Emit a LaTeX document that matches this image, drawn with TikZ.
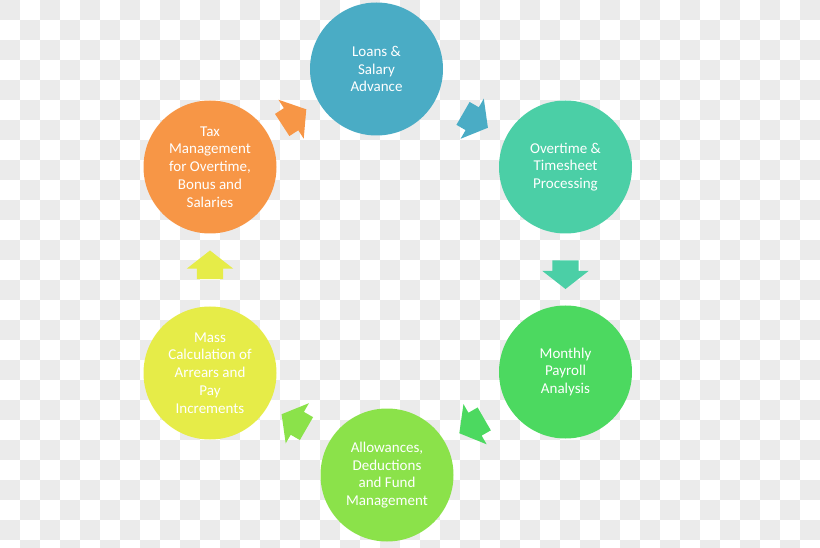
\documentclass[tikz,border=0pt]{standalone}
\usepackage{fontspec}
\setmainfont{Carlito}
\usetikzlibrary{shapes.arrows,calc}
\definecolor{chkgrey}{RGB}{235,235,235}
\definecolor{loanblue}{RGB}{74,172,197}
\definecolor{otteal}{RGB}{75,207,166}
\definecolor{paygreen}{RGB}{76,217,96}
\definecolor{allowgreen}{RGB}{139,226,74}
\definecolor{massyellow}{RGB}{230,236,72}
\definecolor{taxorange}{RGB}{247,150,70}

\begin{document}
\begin{tikzpicture}[
    x=1pt, y=-1pt,
    bub/.style={circle, minimum size=133pt, inner sep=0pt, align=center,
                text=white, font=\fontsize{15}{17.8}\selectfont},
    blk/.style={single arrow, minimum size=0pt, inner xsep=9pt, inner ysep=13pt,
                single arrow head extend=10pt, single arrow head indent=0pt,
                single arrow tip angle=104}
]
\useasboundingbox (0,0) rectangle (820,548);
\clip (0,0) rectangle (820,548);
% checkered background
\foreach \i in {0,...,40}{
  \foreach \j in {0,...,27}{
    \pgfmathtruncatemacro\chk{mod(\i+\j,2)}
    \ifnum\chk=0 \fill[chkgrey] (\i*20,\j*20) rectangle ++(20,20); \fi
  }
}

\node[bub, fill=loanblue]   (loan)  at (376.5,69)  {Loans \&\\Salary\\Advance};
\node[bub, fill=otteal]     (ot)    at (565.5,167) {Overtime \&\\Timesheet\\Processing};
\node[bub, fill=paygreen]   (pay)   at (565.5,372) {Monthly\\Payroll\\Analysis};
\node[bub, fill=allowgreen] (allow) at (387,475)   {Allowances,\\Deductions\\and Fund\\Management};
\node[bub, fill=massyellow] (mass)  at (210,373)   {Mass\\Calculation of\\Arrears and\\Pay\\Increments};
\node[bub, fill=taxorange]  (tax)   at (210,167)   {Tax\\Management\\for Overtime,\\Bonus and\\Salaries};

\node[blk, fill=taxorange, rotate=33]   (a1) at ($(tax)!0.48!(loan)$) {};
\node[blk, fill=loanblue, rotate=-30]   (a2) at ($(loan)!0.5!(ot)$) {};
\node[blk, fill=otteal, rotate=-90]     (a3) at ($(ot)!0.5!(pay)$) {};
\node[blk, fill=paygreen, rotate=210]   (a4) at ($(pay)!0.5!(allow)$) {};
\node[blk, fill=allowgreen, rotate=150] (a5) at ($(allow)!0.5!(mass)$) {};
\node[blk, fill=massyellow, rotate=90]  (a6) at ($(mass)!0.5!(tax)$) {};
\end{tikzpicture}
\end{document}
